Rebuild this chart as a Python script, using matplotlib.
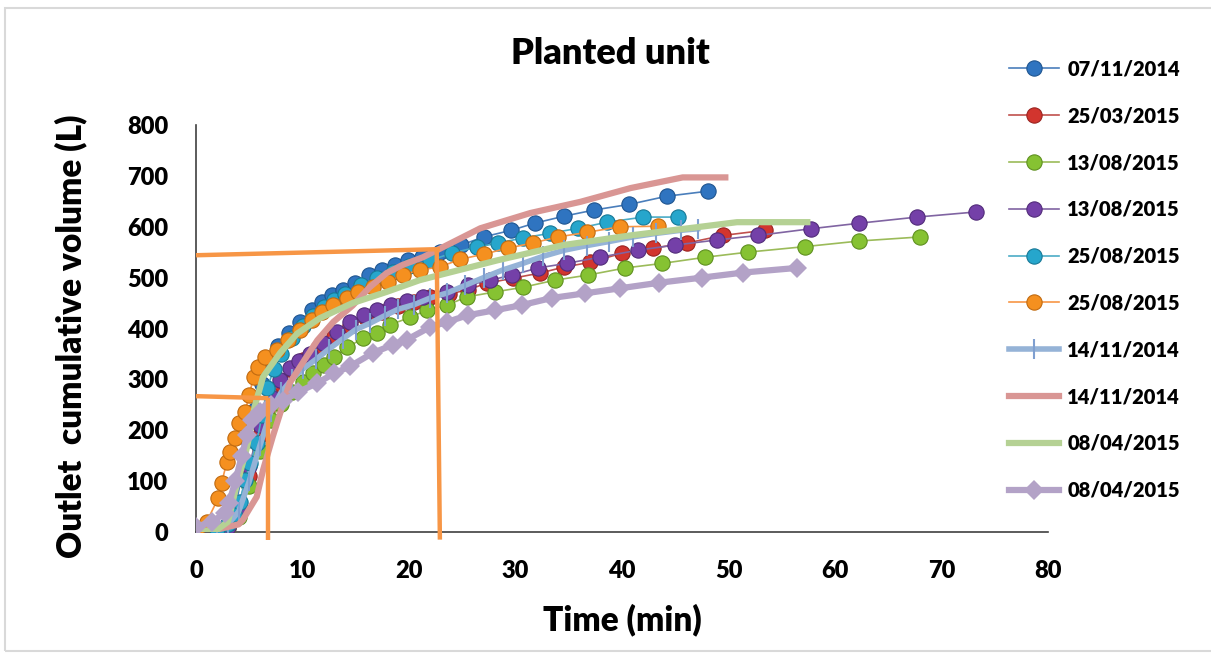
import matplotlib
matplotlib.use("Agg")
import matplotlib.pyplot as plt
from matplotlib.patches import Rectangle

plt.rcParams['font.family'] = ['Lato', 'DejaVu Sans']
plt.rcParams['font.weight'] = 'bold'

# 07/11/2014 (blue spheres)
t_blue = [0, 3.0, 3.7, 4.3, 4.9, 5.5, 6.2, 6.9, 7.7, 8.7, 9.8, 10.9, 11.8, 12.8, 13.8, 14.9,
          16.2, 17.5, 18.7, 19.9, 21.2, 22.9, 24.9, 27.0, 29.6, 31.8, 34.6, 37.4, 40.7, 44.2, 48.1]
v_blue = [0, 15, 50, 110, 180, 240, 290, 330, 365, 392, 413, 436, 452, 466, 475, 489,
          505, 515, 525, 534, 540, 550, 564, 580, 593, 607, 621, 633, 644, 660, 670]

# 25/03/2015 (red spheres)
t_red = [0, 3, 4, 5, 6, 7, 8, 9, 10, 11.5, 13, 14.5, 16, 17.5, 19, 20.5, 22, 23.8, 25.5,
         27.3, 29.8, 32.3, 34.6, 37.0, 40.0, 42.9, 46.1, 49.5, 53.4]
v_red = [0, 10, 40, 110, 190, 250, 290, 318, 338, 362, 385, 405, 420, 432, 444, 453, 461, 468, 476,
         489, 499, 509, 521, 530, 548, 558, 568, 583, 593]

# 13/08/2015 (green spheres)
t_green = [0, 3, 4, 5, 6, 7, 8, 9, 10, 11, 12, 13, 14.2, 15.7, 17.0, 18.2, 20.1, 21.7, 23.6,
           25.4, 28.1, 30.7, 33.7, 36.8, 40.3, 43.8, 47.8, 51.8, 57.2, 62.3, 68.0]
v_green = [0, 8, 30, 90, 160, 220, 252, 275, 295, 312, 328, 344, 363, 381, 391, 407, 422, 436, 446,
           462, 472, 481, 495, 505, 519, 528, 540, 550, 561, 572, 580]

# 13/08/2015 (purple spheres)
t_purple = [0, 3, 4, 5, 6, 7, 7.9, 8.8, 9.7, 10.7, 11.9, 13.2, 14.5, 15.8, 17.0, 18.3, 19.8, 21.3,
            23.6, 25.5, 27.6, 29.7, 32.1, 34.8, 37.9, 41.5, 45.0, 48.9, 52.8, 57.7, 62.3, 67.7, 73.2]
v_purple = [0, 10, 50, 130, 210, 265, 299, 322, 336, 350, 372, 393, 412, 426, 436, 446, 454, 461,
            471, 485, 495, 505, 519, 528, 540, 554, 564, 574, 583, 596, 607, 619, 629]

# 25/08/2015 (cyan spheres)
t_cyan = [0, 2, 3, 3.6, 4.1, 4.6, 5.1, 5.7, 6.2, 6.7, 7.3, 8, 9, 10, 11, 12, 13, 14, 15.5, 17,
          18.5, 20, 22, 24.0, 26.4, 28.4, 30.7, 33.2, 35.9, 38.6, 42.0, 45.3]
v_cyan = [0, 5, 15, 35, 59, 102, 135, 175, 230, 283, 320, 350, 382, 405, 425, 442, 456, 468, 485, 500,
          512, 522, 534, 548, 560, 568, 578, 587, 597, 609, 619, 619]

# 25/08/2015 (orange spheres)
t_orange = [0, 1, 2.1, 2.4, 2.9, 3.2, 3.7, 4.0, 4.6, 5.0, 5.4, 5.8, 6.5, 7.6, 8.6, 9.8, 10.9, 11.8,
            12.9, 14.2, 15.2, 16.6, 18.0, 19.4, 21.0, 22.9, 24.8, 27.0, 29.3, 31.6, 34.0, 36.7, 39.8, 43.4]
v_orange = [0, 20, 67, 96, 138, 157, 185, 214, 236, 269, 305, 324, 344, 358, 377, 397, 416, 432,
            446, 460, 472, 481, 491, 505, 515, 521, 536, 546, 558, 568, 580, 589, 600, 601]

# 14/11/2014 (light blue, tick markers)
t_lblue = [0, 2, 3, 4, 5, 6, 7, 8, 9, 10, 11.3, 12.5, 13.8, 15.0, 16.3, 17.7, 19.0, 20.5, 22.0,
           23.6, 25.3, 27.0, 28.8, 30.7, 32.6, 34.6, 36.7, 38.8, 41.0, 43.2, 45.5, 47.1]
v_lblue = [0, 5, 15, 40, 100, 170, 235, 275, 300, 320, 340, 360, 380, 398, 410, 425, 438, 447, 460,
           470, 485, 500, 515, 528, 542, 554, 563, 571, 580, 587, 593, 596]

# 14/11/2014 (pink line)
t_pink = [0, 2, 3, 4, 4.4, 5, 5.7, 6.3, 7.2, 8.8, 10.4, 11.4, 12.9, 14.7, 16.3, 17.9, 19.4, 21.3,
          23.2, 26.7, 31.4, 36.1, 40.8, 45.7, 49.7]
v_pink = [0, 5, 10, 15, 24, 45, 69, 122, 187, 293, 345, 377, 413, 445, 481, 509, 525, 540,
          560, 597, 627, 649, 676, 697, 697]

# 08/04/2015 (light green line)
t_lgreen = [0, 2, 3, 3.7, 4.8, 5.5, 6.3, 7.9, 9.5, 11.6, 14.7, 17.9, 21.0, 23.6, 28.3, 34.5,
            40.8, 47.0, 50.8, 57.4]
v_lgreen = [0, 5, 20, 82, 167, 246, 305, 352, 390, 420, 450, 472, 495, 509, 534, 564,
            583, 599, 609, 609]

# 08/04/2015 (lavender diamonds)
t_lav = [0, 1.5, 2.7, 3.1, 3.7, 4.3, 4.8, 5.3, 6.0, 7.0, 8.2, 9.6, 11.4, 13.0, 14.5, 16.6, 18.5,
         19.8, 22.0, 23.6, 25.5, 28.1, 30.6, 33.4, 36.5, 39.8, 43.5, 47.5, 51.4, 56.4]
v_lav = [10, 20, 37, 57, 100, 150, 190, 220, 235, 250, 258, 275, 293, 312, 326, 352, 368,
         378, 403, 413, 426, 436, 446, 460, 469, 479, 490, 500, 510, 519]

# orange guide lines
guide_x = [0, 6.8, 22.9]
guide_y = [263, 550]

fig = plt.figure(figsize=(12.11, 6.57), dpi=100)
ax = fig.add_axes([196 / 1211, 1 - 532 / 657, (1048 - 196) / 1211, (532 - 125) / 657])

sphere = dict(marker='o', markersize=11, linewidth=1.2, markeredgewidth=0.8)
ax.plot(t_blue, v_blue, color='#4a7ebb', markerfacecolor='#2f74c0', markeredgecolor='#1f5590',
        label='07/11/2014', zorder=3, **sphere)
ax.plot(t_red, v_red, color='#c0504d', markerfacecolor='#d2352e', markeredgecolor='#9a2420',
        label='25/03/2015', zorder=3, **sphere)
ax.plot(t_green, v_green, color='#9bbb59', markerfacecolor='#86c232', markeredgecolor='#5f9020',
        label='13/08/2015', zorder=3, **sphere)
ax.plot(t_purple, v_purple, color='#8064a2', markerfacecolor='#7440a8', markeredgecolor='#522c7a',
        label='13/08/2015', zorder=3, **sphere)
ax.plot(t_cyan, v_cyan, color='#4bacc6', markerfacecolor='#26a6cc', markeredgecolor='#177896',
        label='25/08/2015', zorder=3, **sphere)
ax.plot(t_orange, v_orange, color='#f79646', markerfacecolor='#f5901f', markeredgecolor='#c06a10',
        label='25/08/2015', zorder=3, **sphere)
ax.plot(t_lblue, v_lblue, color='#95b3d7', linewidth=4, marker='|', markersize=14,
        markeredgewidth=1.5, markeredgecolor='#7f9fd0', label='14/11/2014', zorder=3)
ax.plot(t_pink, v_pink, color='#d99694', linewidth=4.5, label='14/11/2014', zorder=3)
ax.plot(t_lgreen, v_lgreen, color='#b5d194', linewidth=4.5, label='08/04/2015', zorder=3)
ax.plot(t_lav, v_lav, color='#b3a2c7', linewidth=4.5, marker='D', markersize=10,
        markeredgewidth=0, label='08/04/2015', zorder=3)

# guide lines
oc = '#f79646'
ax.plot([guide_x[0], guide_x[1]], [guide_y[0] + 4, guide_y[0]], color=oc, lw=3.2, zorder=5,
        solid_capstyle='butt', clip_on=False)
ax.plot([guide_x[1], guide_x[1]], [guide_y[0], -15], color=oc, lw=3.2, zorder=5,
        solid_capstyle='butt', clip_on=False)
ax.plot([guide_x[0], guide_x[2]], [guide_y[1] - 6, guide_y[1] + 6], color=oc, lw=3.2, zorder=5,
        solid_capstyle='butt', clip_on=False)
ax.plot([guide_x[2] - 0.3, guide_x[2]], [guide_y[1] + 6, -15], color=oc, lw=3.2, zorder=5,
        solid_capstyle='butt', clip_on=False)

ax.set_xlim(0, 80)
ax.set_ylim(0, 800)
ax.set_xticks(range(0, 81, 10))
ax.set_yticks(range(0, 801, 100))
ax.tick_params(length=0, labelsize=17, pad=20)
for lab in ax.get_xticklabels() + ax.get_yticklabels():
    lab.set_fontweight('heavy')
for s in ['top', 'right']:
    ax.spines[s].set_visible(False)
for s in ['left', 'bottom']:
    ax.spines[s].set_color('#404040')
    ax.spines[s].set_linewidth(1.2)

ax.set_xlabel('Time (min)', fontsize=24, fontweight='heavy')
ax.xaxis.set_label_coords(0.5, -0.175)
ax.set_ylabel('Outlet  cumulative volume (L)', fontsize=24, fontweight='heavy')
ax.yaxis.set_label_coords(-0.128, 0.48)

fig.text(0.504, 0.919, 'Planted unit', ha='center', va='center', fontsize=26, fontweight='heavy')

fig.legend(loc='upper left', bbox_to_anchor=(0.818, 0.937), frameon=False,
           prop={'size': 14.5, 'weight': 'heavy'},
           handlelength=2.5, labelspacing=1.38, handletextpad=0.4)

fig.patches.append(Rectangle((5 / 1211, 6 / 657), 1.2, 1 - 14 / 657, transform=fig.transFigure,
                             fill=False, edgecolor='#d9d9d9', linewidth=1.5))

fig.savefig('out.png', dpi=100)
